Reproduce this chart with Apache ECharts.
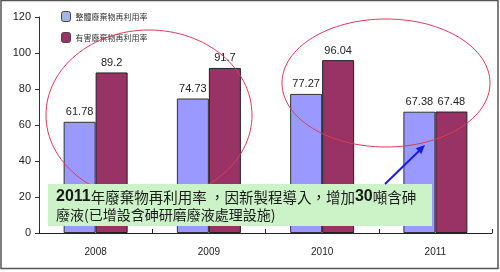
<!DOCTYPE html>
<html>
<head>
<meta charset="utf-8">
<script src="https://cdn.jsdelivr.net/npm/echarts@6/dist/echarts.min.js"></script>
<style>
html,body{margin:0;padding:0;background:#fff;}
#c{width:500px;height:272px;}
</style>
</head>
<body>
<div id="c"></div>
<script>
var categories = ['2008', '2009', '2010', '2011'];
var seriesNames = ['整體廢棄物再利用率', '有害廢棄物再利用率'];
var overallRate = [61.78, 74.73, 77.27, 67.38];
var hazardousRate = [89.2, 91.7, 96.04, 67.48];
var yTicks = [0, 20, 40, 60, 80, 100, 120];
var noteLine1 = ['2011', '年廢棄物再利用率 ，因新製程導入，增加', '30', '噸含砷'];
var noteLine2 = '廢液(已增設含砷研磨廢液處理設施)';

var chart = echarts.init(document.getElementById('c'), null, {renderer: 'canvas'});
var cjk = '"Noto Sans CJK TC", "Noto Sans CJK SC", sans-serif';
var num = '"Liberation Sans", Arial, sans-serif';

var option = {
  animation: false,
  backgroundColor: '#ffffff',
  grid: {left: 39, right: 8, top: 17, bottom: 39, containLabel: false},
  legend: {
    orient: 'vertical',
    left: 56, top: 6,
    itemWidth: 9, itemHeight: 10, itemGap: 10,
    textStyle: {fontFamily: cjk, fontSize: 8, color: '#333'},
    data: [
      {name: seriesNames[0], itemStyle: {color: '#a4b6e6', borderColor: '#444', borderWidth: 1}},
      {name: seriesNames[1], itemStyle: {color: '#993366', borderColor: '#444', borderWidth: 1}}
    ]
  },
  xAxis: {
    type: 'category',
    data: categories,
    axisLine: {lineStyle: {color: '#222', width: 1}},
    axisTick: {show: true, inside: true, length: 4, alignWithLabel: false, lineStyle: {color: '#222'}},
    axisLabel: {fontFamily: num, fontSize: 10, color: '#222', margin: 14}
  },
  yAxis: {
    type: 'value',
    min: yTicks[0], max: yTicks[yTicks.length - 1], interval: yTicks[1] - yTicks[0],
    axisLine: {show: true, lineStyle: {color: '#333', width: 1}},
    axisTick: {show: true, length: 4, lineStyle: {color: '#333'}},
    splitLine: {show: false},
    axisLabel: {fontFamily: num, fontSize: 11, color: '#222', margin: 8}
  },
  series: [
    {
      name: seriesNames[0], type: 'bar', data: overallRate,
      barWidth: 32, barGap: '0%',
      itemStyle: {color: '#9999ff', borderColor: '#333', borderWidth: 1},
      label: {show: true, position: 'top', distance: 4, fontFamily: num, fontSize: 11, color: '#222'}
    },
    {
      name: seriesNames[1], type: 'bar', data: hazardousRate,
      barWidth: 32, barGap: '0%',
      itemStyle: {color: '#993366', borderColor: '#222', borderWidth: 1},
      label: {show: true, position: 'top', distance: 4, fontFamily: num, fontSize: 11, color: '#222'}
    }
  ],
  graphic: [
    {type: 'rect', shape: {x: 1, y: 0.5, width: 497, height: 268}, style: {fill: 'none', stroke: '#555', lineWidth: 1.5}, z: 100},
    {type: 'ellipse', shape: {cx: 149, cy: 115, rx: 103, ry: 85}, style: {fill: 'none', stroke: '#e03a55', lineWidth: 1}, z: 101},
    {type: 'ellipse', shape: {cx: 386, cy: 83, rx: 104, ry: 64}, style: {fill: 'none', stroke: '#e03a55', lineWidth: 1}, z: 101},
    {type: 'rect', shape: {x: 48, y: 184, width: 384, height: 42}, style: {fill: '#ccf2c8', stroke: 'none'}, z: 102},
    {type: 'text', x: 56, y: 197, z: 103,
      style: {
        text: '{b|' + noteLine1[0] + '}{c|' + noteLine1[1] + '}{b|' + noteLine1[2] + '}{c|' + noteLine1[3] + '}',
        verticalAlign: 'middle',
        rich: {
          b: {fontFamily: num, fontWeight: 'bold', fontSize: 16, fill: '#1a1a1a', color: '#1a1a1a'},
          c: {fontFamily: cjk, fontSize: 14.5, fill: '#1a1a1a', color: '#1a1a1a'}
        }
      }
    },
    {type: 'text', x: 56, y: 215, z: 103,
      style: {text: noteLine2, font: '14px ' + cjk, fill: '#1a1a1a', verticalAlign: 'middle'}
    },
    {type: 'line', shape: {x1: 385, y1: 184, x2: 420, y2: 150}, style: {stroke: '#1a1aee', lineWidth: 2}, z: 104},
    {type: 'polygon', shape: {points: [[425, 145], [421.3, 154.1], [415.7, 148.3]]}, style: {fill: '#1a1aee'}, z: 104}
  ]
};
chart.setOption(option);
</script>
</body>
</html>
